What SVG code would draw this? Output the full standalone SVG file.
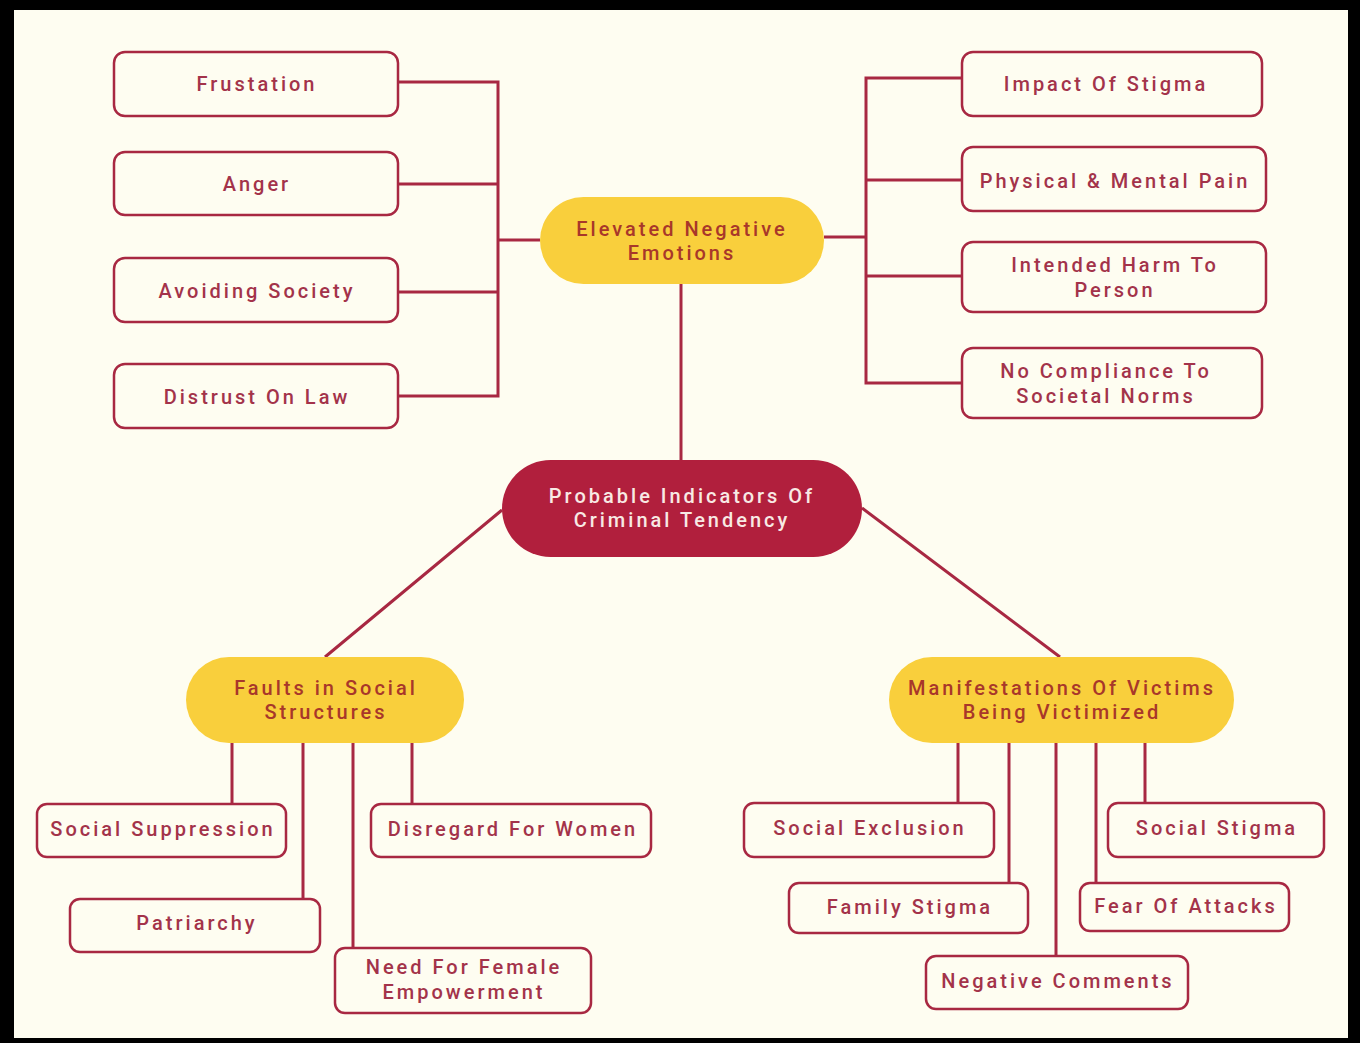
<svg xmlns="http://www.w3.org/2000/svg" width="1360" height="1043" viewBox="0 0 1360 1043">
<style>
.box{fill:#FEFDF1;stroke:#A82842;stroke-width:2.5}
.pill{fill:#F9CF3C}
.core{fill:#B11F3D}
.t{font-family:Roboto,"Liberation Sans",sans-serif;font-size:20px;font-weight:500;letter-spacing:3px;text-anchor:middle;fill:#A3334A}
.ty{fill:#A8372A}
.tw{fill:#F8E9E4}
.c{fill:none;stroke:#A82842;stroke-width:3}
</style>
<rect x="0" y="0" width="1360" height="1043" fill="#000"/>
<rect x="14" y="10" width="1334" height="1028" fill="#FEFDF1"/>
<g id="connectors">
<path class="c" d="M398 82H498V396H398M398 184H498M398 292H498M498 240H540"/>
<path class="c" d="M824 237H866M962 78H866V383H962M866 180H962M866 276H962"/>
<path class="c" d="M681 284V460"/>
<path class="c" d="M502 510L325 657M862 508L1060 657"/>
<path class="c" d="M232 743V804M303 743V899M353 743V948M412 743V804"/>
<path class="c" d="M958 743V803M1009 743V883M1056 743V956M1096 743V883M1145 743V803"/>
</g>
<g id="frustation"><rect class="box" x="114" y="52" width="284" height="64" rx="11"/><text class="t" x="257" y="91">Frustation</text></g>
<g id="anger"><rect class="box" x="114" y="152" width="284" height="63" rx="11"/><text class="t" x="257" y="191">Anger</text></g>
<g id="avoiding"><rect class="box" x="114" y="258" width="284" height="64" rx="11"/><text class="t" x="257" y="298">Avoiding Society</text></g>
<g id="distrust"><rect class="box" x="114" y="364" width="284" height="64" rx="11"/><text class="t" x="257" y="404">Distrust On Law</text></g>
<g id="elevated"><rect class="pill" x="540" y="197" width="284" height="87" rx="43.5"/><text class="t ty" x="682" y="236">Elevated Negative</text><text class="t ty" x="682" y="260">Emotions</text></g>
<g id="impact"><rect class="box" x="962" y="52" width="300" height="64" rx="11"/><text class="t" x="1106" y="91">Impact Of Stigma</text></g>
<g id="physical"><rect class="box" x="962" y="147" width="304" height="64" rx="11"/><text class="t" x="1115" y="188">Physical &amp; Mental Pain</text></g>
<g id="intended"><rect class="box" x="962" y="242" width="304" height="70" rx="11"/><text class="t" x="1115" y="272">Intended Harm To</text><text class="t" x="1115" y="297">Person</text></g>
<g id="compliance"><rect class="box" x="962" y="348" width="300" height="70" rx="11"/><text class="t" x="1106" y="378">No Compliance To</text><text class="t" x="1106" y="403">Societal Norms</text></g>
<g id="probable"><rect class="core" x="502" y="460" width="360" height="97" rx="48.5"/><text class="t tw" x="682" y="503">Probable Indicators Of</text><text class="t tw" x="682" y="527">Criminal Tendency</text></g>
<g id="faults"><rect class="pill" x="186" y="657" width="278" height="86" rx="43"/><text class="t ty" x="326" y="695">Faults in Social</text><text class="t ty" x="326" y="719">Structures</text></g>
<g id="manifestations"><rect class="pill" x="889" y="657" width="345" height="86" rx="43"/><text class="t ty" x="1062" y="695">Manifestations Of Victims</text><text class="t ty" x="1062" y="719">Being Victimized</text></g>
<g id="suppression"><rect class="box" x="37" y="804" width="249" height="53" rx="10"/><text class="t" x="163" y="836">Social Suppression</text></g>
<g id="disregard"><rect class="box" x="371" y="804" width="280" height="53" rx="10"/><text class="t" x="513" y="836">Disregard For Women</text></g>
<g id="patriarchy"><rect class="box" x="70" y="899" width="250" height="53" rx="10"/><text class="t" x="197" y="930">Patriarchy</text></g>
<g id="empowerment"><rect class="box" x="335" y="948" width="256" height="65" rx="10"/><text class="t" x="464" y="974">Need For Female</text><text class="t" x="464" y="999">Empowerment</text></g>
<g id="exclusion"><rect class="box" x="744" y="803" width="250" height="54" rx="10"/><text class="t" x="870" y="835">Social Exclusion</text></g>
<g id="socialstigma"><rect class="box" x="1108" y="803" width="216" height="54" rx="10"/><text class="t" x="1217" y="835">Social Stigma</text></g>
<g id="familystigma"><rect class="box" x="789" y="883" width="239" height="50" rx="10"/><text class="t" x="910" y="914">Family Stigma</text></g>
<g id="fear"><rect class="box" x="1080" y="883" width="209" height="48" rx="10"/><text class="t" x="1186" y="913">Fear Of Attacks</text></g>
<g id="negative"><rect class="box" x="926" y="956" width="262" height="53" rx="10"/><text class="t" x="1058" y="988">Negative Comments</text></g>
</svg>
